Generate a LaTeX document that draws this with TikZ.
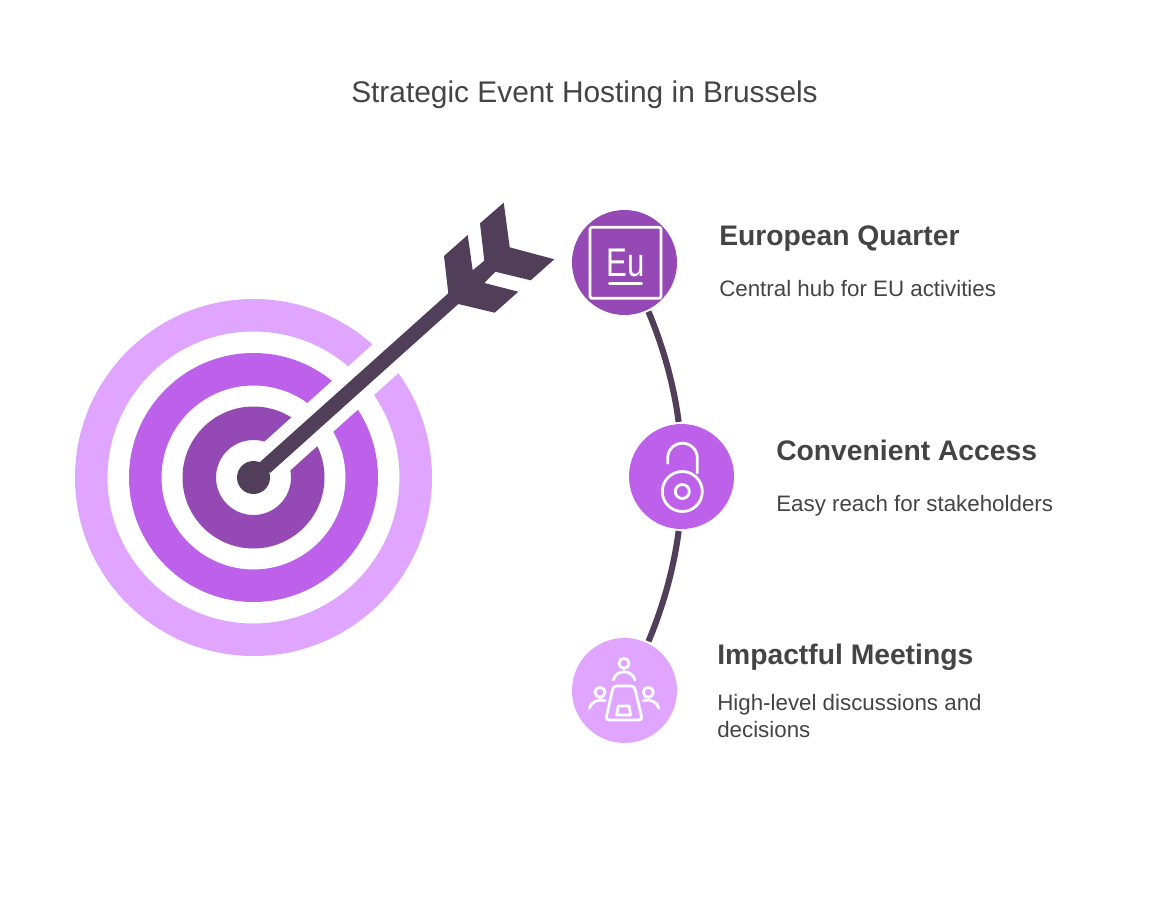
\documentclass[tikz,border=0pt]{standalone}
\usepackage{fontspec}
\setmainfont{Liberation Sans}
\usetikzlibrary{arrows.meta,positioning,calc}
\definecolor{RingDark}{HTML}{9549B5}
\definecolor{RingMid}{HTML}{BD61EB}
\definecolor{RingLight}{HTML}{E0A6FF}
\definecolor{ArrowDark}{HTML}{513E59}
\definecolor{TextGray}{HTML}{444444}
\tikzset{
  badge/.style={circle,minimum size=78.75pt,inner sep=0pt,outer sep=1.6pt},
  link/.style={ArrowDark,line width=4.6pt},
  icon/.style={white,line width=2.1pt,line cap=round,line join=round},
  headtext/.style={anchor=base west,inner sep=0pt,text=TextGray,font=\fontsize{21.2}{26}\selectfont\bfseries},
  desctext/.style={anchor=base west,inner sep=0pt,text=TextGray,font=\fontsize{16.75}{20.25}\selectfont},
}

\begin{document}
\begin{tikzpicture}[x=.75pt,y=-.75pt]
  \useasboundingbox (0,0) rectangle (1170,899);
  \node[anchor=base,inner sep=0pt,text=TextGray,font=\fontsize{22.4}{27}\selectfont] (title) at (584.5,102.5) {Strategic Event Hosting in Brussels};

  \coordinate (target) at (253.5,477.5);
  \fill[RingLight,even odd rule] (target) circle[radius=178.5] circle[radius=146];
  \fill[RingMid,even odd rule] (target) circle[radius=124.5] circle[radius=92];
  \fill[RingDark,even odd rule] (target) circle[radius=71] circle[radius=37.5];
  \draw[white,line width=28.9pt] (target) -- (403,343);
  \fill[ArrowDark] (target) circle[radius=16.5];
  \fill[ArrowDark] (260,462)--(448.3,293.3)--(444,256)--(467.7,235)--(472.7,270.3)--(484.3,260.7)
    --(480,223.3)--(503.7,202.7)--(509.7,247.3)--(554.3,259.3)--(530.7,280.3)--(495.3,271.7)
    --(484.3,283)--(518.3,291.7)--(494.7,312.7)--(458.3,304)--(270,473)--cycle;

  \node[badge,fill=RingDark] (quarter) at (624.5,262.5) {};
  \node[badge,fill=RingMid] (access) at (681.5,476.5) {};
  \node[badge,fill=RingLight] (meetings) at (624.5,690.5) {};
  \draw[link] (quarter.-64.6) to[out=-67.3,in=97.4,looseness=.85] (access.93);
  \draw[link] (access.-93) to[out=-97.4,in=67.3,looseness=.85] (meetings.64.6);

  \draw[icon,rounded corners=1.5pt] (590,227.3) rectangle (661,298.3);
  \node[inner sep=0pt,text=white,font=\fontsize{30}{30}\selectfont] (eu) at (625.5,263) {\scalebox{.78}[1]{Eu}};
  \draw[icon] (609.3,283.3)--(641.7,283.3);

  \draw[icon] (682.3,491.5) circle[radius=20] (682.3,491.5) circle[radius=7];
  \draw[icon] (667.7,463.3)--(667.7,458) arc[start angle=180,end angle=360,radius=14.8]--(697.3,473);

  \draw[icon] (624,663.3) circle[radius=5];
  \draw[icon] (613.3,680) .. controls (616,669) and (632,669) .. (635,680);
  \draw[icon,rounded corners=2.5pt] (613.3,686)--(634.3,686)--(642.3,720)--(605.7,720)--cycle;
  \draw[icon] (618.3,706)--(629,706)--(630.7,715)--(616.7,715)--cycle;
  \draw[icon] (600,692.3) circle[radius=5];
  \draw[icon] (589.3,708.3) .. controls (591,702) and (598,698.5) .. (605,700.7);
  \draw[icon] (648.3,692.3) circle[radius=5];
  \draw[icon] (659,708.3) .. controls (657.3,702) and (650.3,698.5) .. (643.3,700.7);

  \node[headtext] (quarterhead) at (719,245.5) {European Quarter};
  \node[desctext] (quarterdesc) at (719,296.5) {Central hub for EU activities};
  \node[headtext] (accesshead) at (776,460.5) {Convenient Access};
  \node[desctext] (accessdesc) at (776,511.5) {Easy reach for stakeholders};
  \node[headtext] (meetingshead) at (717,664.5) {Impactful Meetings};
  \node[desctext] (meetingsdesc) at (717,710.5) {High-level discussions and};
  \node[desctext] (meetingsmore) at (717,737.5) {decisions};
\end{tikzpicture}
\end{document}
